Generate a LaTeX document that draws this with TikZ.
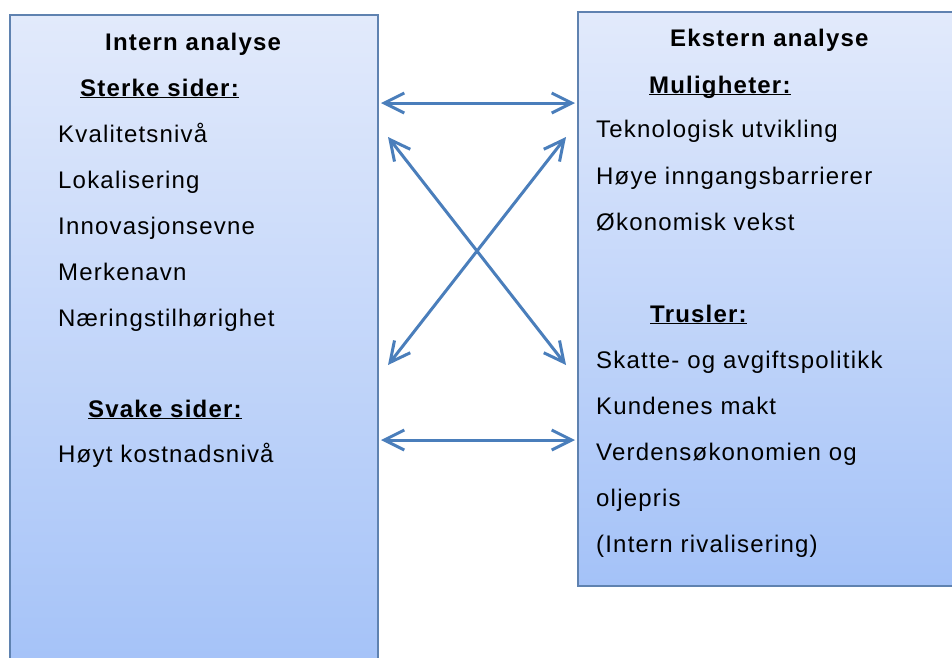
\documentclass[tikz,border=0pt]{standalone}
\usepackage{fontspec}
\setmainfont[LetterSpace=5]{Liberation Sans}
\usepackage{xcolor}
\usetikzlibrary{positioning, arrows.meta}

\definecolor{rimblue}{HTML}{5F82B0}
\definecolor{arrowblue}{HTML}{4A7EBB}
\definecolor{boxtop}{HTML}{E2EAFB}
\definecolor{boxbottom}{HTML}{A4C2F8}

\newcommand{\headline}[1]{\textbf{\underline{\smash{#1}}}}

\begin{document}
\begin{tikzpicture}[
  x=1pt, y=-1pt,
  panel/.style={draw=rimblue, line width=2pt, top color=boxtop, bottom color=boxbottom, anchor=north west, inner sep=0pt},
  item/.style={anchor=base west, inner sep=0pt, font=\fontsize{24pt}{24pt}\selectfont},
  title/.style={item, font=\fontsize{24pt}{24pt}\selectfont\bfseries},
  link/.style={{Straight Barb[length=20pt, width=20pt]}-{Straight Barb[length=20pt, width=20pt]}, line width=3pt, draw=arrowblue}
]
  \useasboundingbox (0,0) rectangle (952,657);

  % the two boxes
  \node[panel, minimum width=368pt, minimum height=660pt] (intern) at (9,14) {};
  \node[panel, minimum width=390pt, minimum height=574pt] (ekstern) at (577,11) {};

  % internal side
  \node[title] (it) at (105,50) {Intern analyse};
  \node[item] (ss) at (80,96) {\headline{Sterke sider:}};
  \node[item] (s1) at (58,142) {Kvalitetsnivå};
  \node[item] (s2) at (58,188) {Lokalisering};
  \node[item] (s3) at (58,234) {Innovasjonsevne};
  \node[item] (s4) at (58,280) {Merkenavn};
  \node[item] (s5) at (58,326) {Næringstilhørighet};
  \node[item] (sv) at (88,417) {\headline{Svake sider:}};
  \node[item] (v1) at (58,462) {Høyt kostnadsnivå};

  % external side
  \node[title] (et) at (670,46) {Ekstern analyse};
  \node[item] (mu) at (649,93) {\headline{Muligheter:}};
  \node[item] (m1) at (596,137) {Teknologisk utvikling};
  \node[item] (m2) at (596,184) {Høye inngangsbarrierer};
  \node[item] (m3) at (596,230) {Økonomisk vekst};
  \node[item] (tr) at (650,322) {\headline{Trusler:}};
  \node[item] (t1) at (596,368) {Skatte- og avgiftspolitikk};
  \node[item] (t2) at (596,414) {Kundenes makt};
  \node[item] (t3) at (596,460) {Verdensøkonomien og};
  \node[item] (t4) at (596,506) {oljepris};
  \node[item] (t5) at (596,552) {(Intern rivalisering)};

  % arrow ends
  \coordinate (iTop) at (381,103);
  \coordinate (eTop) at (575,103);
  \coordinate (iUp) at (388,137);
  \coordinate (eUp) at (566,137);
  \coordinate (iLow) at (388,365);
  \coordinate (eLow) at (566,365);
  \coordinate (iBot) at (381,440);
  \coordinate (eBot) at (575,440);

  \draw[link] (iTop) -- (eTop);
  \draw[link] (iUp) -- (eLow);
  \draw[link] (eUp) -- (iLow);
  \draw[link] (iBot) -- (eBot);
\end{tikzpicture}
\end{document}
